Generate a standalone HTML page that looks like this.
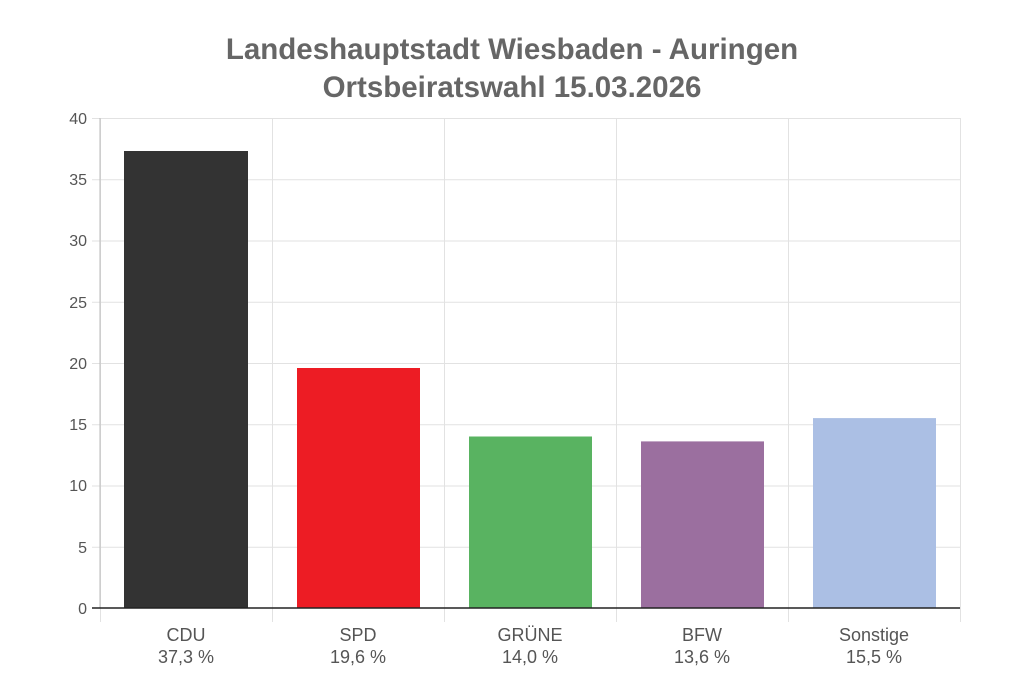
<!DOCTYPE html>
<html><head><meta charset="utf-8"><style>
body{margin:0;background:#fff;}
svg{display:block;font-family:"Liberation Sans",Arial,sans-serif;}
</style></head><body>
<svg width="1024" height="681" viewBox="0 0 1024 681">
<rect width="1024" height="681" fill="#fff"/>
<text x="512" y="59" text-anchor="middle" font-size="29.5" font-weight="bold" fill="#666">Landeshauptstadt Wiesbaden - Auringen</text>
<text x="512" y="97" text-anchor="middle" font-size="29.5" font-weight="bold" fill="#666">Ortsbeiratswahl 15.03.2026</text>
<g stroke="#e2e2e2" stroke-width="1">
<line x1="92" y1="118.5" x2="960" y2="118.5"/>
<line x1="92" y1="179.75" x2="960" y2="179.75"/>
<line x1="92" y1="241" x2="960" y2="241"/>
<line x1="92" y1="302.25" x2="960" y2="302.25"/>
<line x1="92" y1="363.5" x2="960" y2="363.5"/>
<line x1="92" y1="424.75" x2="960" y2="424.75"/>
<line x1="92" y1="486" x2="960" y2="486"/>
<line x1="92" y1="547.25" x2="960" y2="547.25"/>
<line x1="100.5" y1="118" x2="100.5" y2="622"/>
<line x1="272.5" y1="118" x2="272.5" y2="622"/>
<line x1="444.5" y1="118" x2="444.5" y2="622"/>
<line x1="616.5" y1="118" x2="616.5" y2="622"/>
<line x1="788.5" y1="118" x2="788.5" y2="622"/>
<line x1="960.5" y1="118" x2="960.5" y2="622"/>
</g>
<line x1="100" y1="118" x2="100" y2="608" stroke="#bbb"/>
<g font-size="16" fill="#555" text-anchor="end">
<text x="87" y="124">40</text><text x="87" y="185">35</text><text x="87" y="246">30</text>
<text x="87" y="308">25</text><text x="87" y="369">20</text><text x="87" y="430">15</text>
<text x="87" y="491">10</text><text x="87" y="553">5</text><text x="87" y="614">0</text>
</g>
<rect x="124" y="151" width="124" height="457" fill="#333333"/>
<rect x="297" y="368" width="123" height="240" fill="#ed1c24"/>
<rect x="469" y="436.5" width="123" height="171.5" fill="#59b361"/>
<rect x="641" y="441.4" width="123" height="166.6" fill="#9b6f9f"/>
<rect x="813" y="418.1" width="123" height="189.9" fill="#abbfe4"/>
<line x1="92" y1="608" x2="960" y2="608" stroke="#222" stroke-width="1.5"/>
<g font-size="18" fill="#555" text-anchor="middle">
<text x="186" y="641">CDU</text><text x="186" y="663">37,3 %</text>
<text x="358" y="641">SPD</text><text x="358" y="663">19,6 %</text>
<text x="530" y="641">GRÜNE</text><text x="530" y="663">14,0 %</text>
<text x="702" y="641">BFW</text><text x="702" y="663">13,6 %</text>
<text x="874" y="641">Sonstige</text><text x="874" y="663">15,5 %</text>
</g>
</svg>
</body></html>
